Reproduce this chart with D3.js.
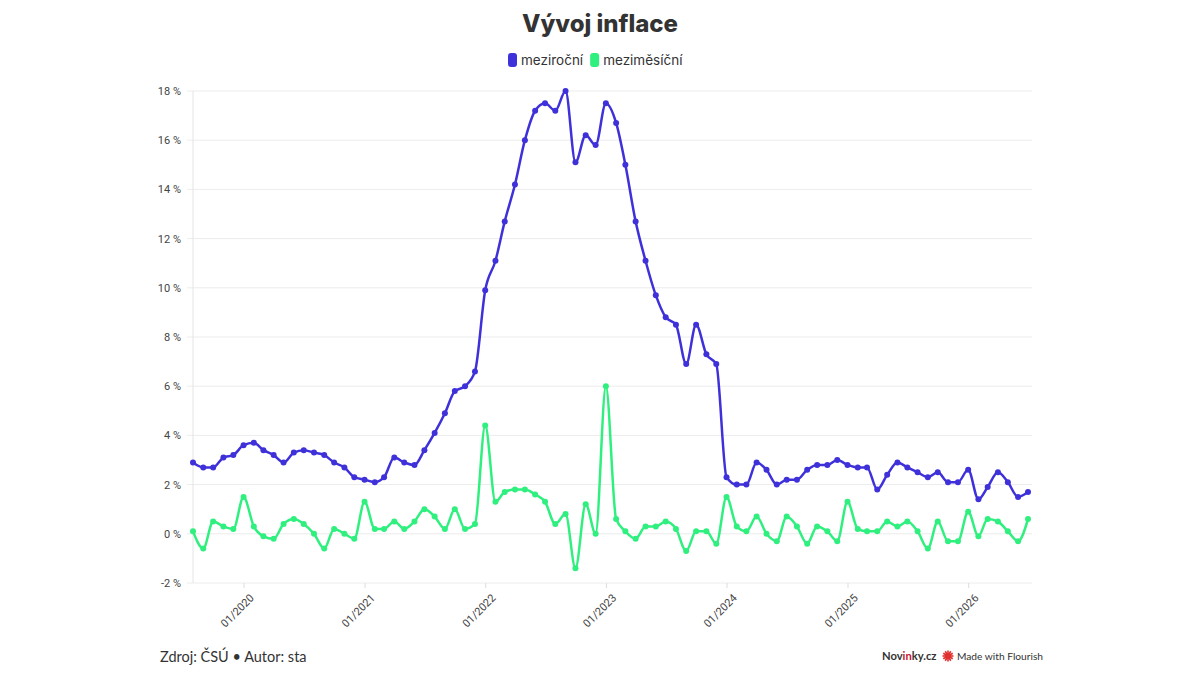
<!DOCTYPE html>
<html lang="cs">
<head>
<meta charset="UTF-8">
<title>Vývoj inflace</title>
<script src="https://d3js.org/d3.v7.min.js"></script>
<style>
  body { margin: 0; background: #fff; font-family: "Inter", "Roboto", sans-serif; }
  .grid line { stroke: #ececec; }
  .axis text { fill: #444; font-size: 11px; font-family: "Roboto", sans-serif; }
</style>
</head>
<body>
<div id="chart"></div>
<script>
// měsíce od 08/2019 do 07/2026
const startMonth = new Date(2019, 7, 1);
const yearTicks = [2020, 2021, 2022, 2023, 2024, 2025, 2026];
const yTicks = [-2, 0, 2, 4, 6, 8, 10, 12, 14, 16, 18];

// meziroční (%)
const mezirocni = [
  2.9, 2.7, 2.7, 3.1, 3.2,
  3.6, 3.7, 3.4, 3.2, 2.9, 3.3, 3.4, 3.3, 3.2, 2.9, 2.7, 2.3,
  2.2, 2.1, 2.3, 3.1, 2.9, 2.8, 3.4, 4.1, 4.9, 5.8, 6.0, 6.6,
  9.9, 11.1, 12.7, 14.2, 16.0, 17.2, 17.5, 17.2, 18.0, 15.1, 16.2, 15.8,
  17.5, 16.7, 15.0, 12.7, 11.1, 9.7, 8.8, 8.5, 6.9, 8.5, 7.3, 6.9,
  2.3, 2.0, 2.0, 2.9, 2.6, 2.0, 2.2, 2.2, 2.6, 2.8, 2.8, 3.0,
  2.8, 2.7, 2.7, 1.8, 2.4, 2.9, 2.7, 2.5, 2.3, 2.5, 2.1, 2.1,
  2.6, 1.4, 1.9, 2.5, 2.1, 1.5, 1.7
];

// meziměsíční (%)
const mezimesicni = [
  0.1, -0.6, 0.5, 0.3, 0.2,
  1.5, 0.3, -0.1, -0.2, 0.4, 0.6, 0.4, 0.0, -0.6, 0.2, 0.0, -0.2,
  1.3, 0.2, 0.2, 0.5, 0.2, 0.5, 1.0, 0.7, 0.2, 1.0, 0.2, 0.4,
  4.4, 1.3, 1.7, 1.8, 1.8, 1.6, 1.3, 0.4, 0.8, -1.4, 1.2, 0.0,
  6.0, 0.6, 0.1, -0.2, 0.3, 0.3, 0.5, 0.2, -0.7, 0.1, 0.1, -0.4,
  1.5, 0.3, 0.1, 0.7, 0.0, -0.3, 0.7, 0.3, -0.4, 0.3, 0.1, -0.3,
  1.3, 0.2, 0.1, 0.1, 0.5, 0.3, 0.5, 0.1, -0.6, 0.5, -0.3, -0.3,
  0.9, -0.1, 0.6, 0.5, 0.1, -0.3, 0.6
];

const months = mezirocni.map((_, i) => new Date(startMonth.getFullYear(), startMonth.getMonth() + i, 1));

const series = [
  { name: "meziroční", color: "#3f31d9", values: mezirocni },
  { name: "meziměsíční", color: "#2ff07f", values: mezimesicni }
];

const width = 1200, height = 675;
const margin = { top: 91, right: 168, bottom: 92, left: 193 };

const svg = d3.select("#chart").append("svg")
  .attr("width", width)
  .attr("height", height);

const x = d3.scaleTime()
  .domain([months[0], months[months.length - 1]])
  .range([margin.left, width - margin.right - 4]);

const y = d3.scaleLinear()
  .domain([-2, 18])
  .range([height - margin.bottom, margin.top]);

// mřížka
svg.append("g")
  .attr("class", "grid")
  .selectAll("line")
  .data(yTicks)
  .join("line")
  .attr("x1", margin.left - 6)
  .attr("x2", width - margin.right)
  .attr("y1", d => y(d))
  .attr("y2", d => y(d));

// osa y
svg.append("line")
  .attr("x1", margin.left).attr("x2", margin.left)
  .attr("y1", margin.top).attr("y2", height - margin.bottom)
  .attr("stroke", "#e4e4e4");

const yAxis = svg.append("g")
  .attr("class", "axis")
  .attr("transform", `translate(${margin.left - 9},0)`)
  .call(d3.axisLeft(y).tickValues(yTicks).tickSize(0).tickFormat(d => d + " %"));
yAxis.select(".domain").remove();

// osa x
const xAxis = svg.append("g")
  .attr("class", "axis")
  .attr("transform", `translate(0,${height - margin.bottom})`)
  .call(d3.axisBottom(x)
    .tickValues(yearTicks.map(yr => new Date(yr, 0, 1)))
    .tickSize(5)
    .tickFormat(d3.timeFormat("%m/%Y")));
xAxis.select(".domain").remove();
xAxis.selectAll(".tick line").attr("stroke", "#ddd");
xAxis.selectAll("text")
  .attr("text-anchor", "end")
  .attr("dx", 0)
  .attr("dy", 0)
  .attr("transform", "translate(5,10) rotate(-45)");

// čáry
const line = d3.line()
  .x((d, i) => x(months[i]))
  .y(d => y(d))
  .curve(d3.curveMonotoneX);

series.forEach(s => {
  const g = svg.append("g");
  g.append("path")
    .datum(s.values)
    .attr("fill", "none")
    .attr("stroke", s.color)
    .attr("stroke-width", 2.5)
    .attr("stroke-linejoin", "round")
    .attr("d", line);
  g.selectAll("circle")
    .data(s.values)
    .join("circle")
    .attr("cx", (d, i) => x(months[i]))
    .attr("cy", d => y(d))
    .attr("r", 3)
    .attr("fill", s.color);
});

// nadpis
svg.append("text")
  .attr("x", width / 2)
  .attr("y", 32)
  .attr("text-anchor", "middle")
  .attr("font-size", 24)
  .attr("font-weight", 800)
  .attr("fill", "#333")
  .text("Vývoj inflace");

// legenda
const legend = svg.append("g").attr("transform", "translate(508,53)");
let lx = 0;
series.forEach(s => {
  legend.append("rect")
    .attr("x", lx).attr("y", 0)
    .attr("width", 9).attr("height", 14)
    .attr("rx", 3)
    .attr("fill", s.color);
  const t = legend.append("text")
    .attr("x", lx + 13)
    .attr("y", 11.5)
    .attr("font-size", 13.5)
    .attr("fill", "#333")
    .text(s.name);
  lx += 13 + t.node().getComputedTextLength() + 7;
});

// patička
svg.append("text")
  .attr("x", 160)
  .attr("y", 662)
  .attr("font-family", "Lato, sans-serif")
  .attr("font-size", 14.5)
  .attr("fill", "#333")
  .text("Zdroj: ČSÚ • Autor: sta");

const nov = svg.append("text")
  .attr("x", 882)
  .attr("y", 660)
  .attr("font-family", "Lato, sans-serif")
  .attr("font-size", 11.2)
  .attr("font-weight", 700)
  .attr("fill", "#333");
nov.append("tspan").text("Nov");
nov.append("tspan").attr("fill", "#c8102e").text("in");
nov.append("tspan").text("ky.cz");

const flower = svg.append("g").attr("transform", "translate(948,656)");
d3.range(12).forEach(i => {
  flower.append("line")
    .attr("x1", 0).attr("y1", 0)
    .attr("x2", 5.5 * Math.cos(i * Math.PI / 6))
    .attr("y2", 5.5 * Math.sin(i * Math.PI / 6))
    .attr("stroke", "#e03030")
    .attr("stroke-width", 1.6);
});
flower.append("circle").attr("r", 3).attr("fill", "#e03030");

svg.append("text")
  .attr("x", 957)
  .attr("y", 660)
  .attr("font-family", "Lato, sans-serif")
  .attr("font-size", 10.2)
  .attr("fill", "#333")
  .text("Made with Flourish");
</script>
</body>
</html>
